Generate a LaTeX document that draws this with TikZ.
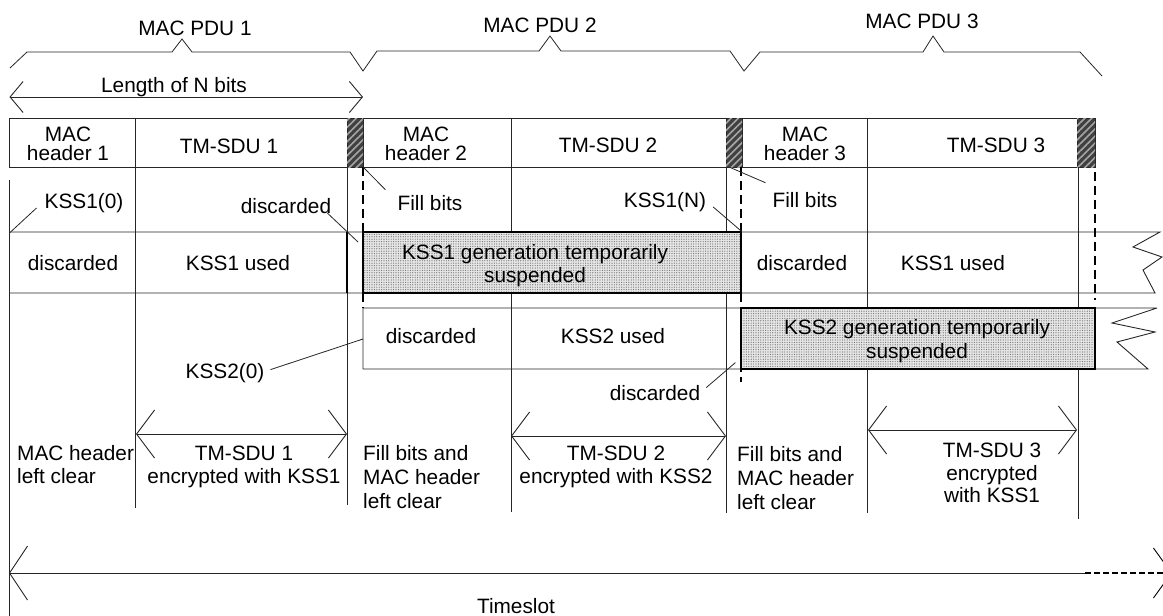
\documentclass[tikz,border=0pt]{standalone}
\usepackage{fontspec}
\setmainfont{Liberation Sans}
\usetikzlibrary{arrows.meta,patterns,patterns.meta,calc}
\begin{document}
\begin{tikzpicture}[x=1pt,y=-1pt,
  every node/.style={inner sep=0pt, font=\fontsize{20.8}{23}\selectfont, text=black},
  ln/.style={draw=black!85, line width=0.9pt},
  leader/.style={draw=black!85, line width=0.8pt},
  lbl/.style={anchor=base},
  hdrfont/.style={font=\fontsize{20.8}{19}\selectfont, align=center},
  widefont/.style={font=\fontsize{20.8}{24}\selectfont},
  hatchbox/.style={draw=black!85, line width=0.6pt, fill=black!75,
    postaction={pattern={Lines[angle=45,distance=5pt,line width=1.6pt]}, pattern color=black!35},
    minimum height=49pt},
  shadebox/.style={preaction={fill=black!10}, pattern={Dots[distance=2.4pt,radius=0.6pt]},
    pattern color=black!55, draw=black, line width=1.2pt, minimum height=61pt},
  dashv/.style={draw=black, line width=2pt, dash pattern=on 9pt off 5pt},
  barbs/.style={{Straight Barb[length=18pt,width=48pt,line width=0.9pt]}-{Straight Barb[length=18pt,width=48pt,line width=0.9pt]}}
]
\useasboundingbox (0,0) rectangle (1163,616);

% PDU braces
\draw[ln, line width=0.8pt] (10,68) -- (27,52) -- (172,52) -- (182,39) -- (192,52) -- (350,52) -- (363,71)
  -- (377,51) -- (539,51) -- (550,36) -- (561,51) -- (730,51) -- (744,71)
  -- (760,52) -- (923,52) -- (933,36) -- (944,52) -- (1080,52) -- (1102,76);
\node[lbl] (pdu1) at (195,35) {MAC PDU 1};
\node[lbl] (pdu2) at (540,32) {MAC PDU 2};
\node[lbl] (pdu3) at (922,28) {MAC PDU 3};

% Length of N bits
\coordinate (lenL) at (9.5,97);
\coordinate (lenR) at (363,97);
\draw[ln, {Straight Barb[length=13pt,width=31pt,line width=0.9pt]}-{Straight Barb[length=13pt,width=31pt,line width=0.9pt]}] (lenL) -- (lenR);
\node[lbl] (lenT) at (174,92) {Length of N bits};

% header row
\draw[ln] (9.5,118) rectangle (1095,167);
\draw[ln] (135,118) -- (135,167);
\draw[ln] (511,118) -- (511,167);
\draw[ln] (867,118) -- (867,167);
\node[hatchbox, minimum width=16pt] (h1) at (355,142.5) {};
\node[hatchbox, minimum width=16pt] (h2) at (734,142.5) {};
\node[hatchbox, minimum width=18pt] (h3) at (1086,142.5) {};
\node[hdrfont] (mh1) at (68,144) {MAC\\header 1};
\node[lbl] (sdu1) at (229,153) {TM-SDU 1};
\node[hdrfont] (mh2) at (426,144) {MAC\\header 2};
\node[lbl] (sdu2) at (608,152) {TM-SDU 2};
\node[hdrfont] (mh3) at (805,144) {MAC\\header 3};
\node[lbl] (sdu3) at (996,152) {TM-SDU 3};

% long vertical lines
\draw[ln] (9.5,180) -- (9.5,616);
\draw[ln] (135,167) -- (135,508);
\draw[ln] (347,167) -- (347,505);
\draw[ln] (511,167) -- (511,512);
\draw[ln] (726,167) -- (726,513);
\draw[ln] (867,167) -- (867,513);
\draw[ln] (1078,167) -- (1078,519);

% KSS1 row
\draw[ln] (9.5,232) -- (1160,232) -- (1133,247) -- (1162,257) -- (1143,270) -- (1155,293) -- (9.5,293);
\draw[line width=1.6pt] (347,232) -- (347,293);
% KSS2 row
\draw[ln] (1157,308) -- (363,308) -- (363,369) -- (1148,369) -- (1117,342) -- (1155,332) -- (1112,323) -- (1157,308);

% suspended boxes
\node[shadebox, minimum width=378pt] (sh1) at (552,262.5) {};
\node[shadebox, minimum width=354pt] (sh2) at (918,338.5) {};
\node[align=center] (sh1t) at (535,265.5) {KSS1 generation temporarily\\suspended};
\node[align=center, widefont] (sh2t) at (917,341) {KSS2 generation temporarily\\suspended};

% dashed markers
\draw[dashv] (363,167) -- (363,308);
\draw[dashv] (741,167) -- (741,382);
\draw[dashv] (1095,172) -- (1095,300);

% row 2 labels
\node[lbl] (kss10) at (84,208) {KSS1(0)};
\node[lbl] (disc1) at (286,213) {discarded};
\node[lbl] (fill2) at (430,210) {Fill bits};
\node[lbl] (kssN) at (665,207) {KSS1(N)};
\node[lbl] (fill3) at (805,207) {Fill bits};
% row 3 labels
\node[lbl] (r3a) at (73,270) {discarded};
\node[lbl] (r3b) at (238,270) {KSS1 used};
\node[lbl] (r3c) at (802,270) {discarded};
\node[lbl] (r3d) at (953,270) {KSS1 used};
% row 5 labels
\node[lbl] (r5a) at (431,343) {discarded};
\node[lbl] (r5b) at (613,343) {KSS2 used};
\node[lbl] (kss20) at (225,378) {KSS2(0)};
\node[lbl] (disc3) at (655,400) {discarded};

% leader lines
\coordinate (p1) at (9.5,233);
\coordinate (p2) at (358,242);
\coordinate (p6) at (363,339);
\draw[leader] ($(kss10.base west)+(-8,0)$) -- (p1);
\draw[leader] ($(disc1.base east)+(-4,0)$) -- (p2);
\draw[leader] (h1.south east) -- ($(fill2.north west)+(-12,-5)$);
\draw[leader] ($(kssN.base east)+(7,0)$) -- (sh1.north east);
\draw[leader] ($(h2.south west)+(4,0)$) -- ($(fill3.north west)+(-7,-9)$);
\draw[leader] ($(kss20.east)+(6,-3)$) -- (p6);
\draw[leader] ($(disc3.east)+(6,-5)$) -- ($(sh2.south west)+(-5,-7)$);

% encryption spans
\coordinate (a1l) at (136,434); \coordinate (a1r) at (347,434);
\coordinate (a2l) at (511,436); \coordinate (a2r) at (726,436);
\coordinate (a3l) at (868,430); \coordinate (a3r) at (1077,430);
\draw[ln, barbs] (a1l) -- (a1r);
\draw[ln, barbs] (a2l) -- (a2r);
\draw[ln, barbs] (a3l) -- (a3r);

% bottom texts
\node[align=left, anchor=west] (bl1) at (17,465) {MAC header\\left clear};
\node[align=center] (bc1) at (244,467) {TM-SDU 1\\encrypted with KSS1};
\node[align=left, anchor=west, widefont] (bl2) at (363,477.5) {Fill bits and\\MAC header\\left clear};
\node[align=center] (bc2) at (616,467) {TM-SDU 2\\encrypted with KSS2};
\node[align=left, anchor=west, widefont] (bl3) at (737,478) {Fill bits and\\MAC header\\left clear};
\node[align=center, font=\fontsize{20.8}{22.5}\selectfont] (bc3) at (992,473) {TM-SDU 3\\encrypted\\with KSS1};

% timeslot
\coordinate (tsL) at (9,573);
\coordinate (tsM) at (1085,573);
\coordinate (tsR) at (1172,573);
\draw[ln, {Straight Barb[length=18pt,width=54pt,line width=0.9pt]}-] (tsL) -- (tsM);
\draw[draw=black, line width=1.5pt, dash pattern=on 6pt off 3pt, -{Straight Barb[length=18pt,width=50pt,line width=0.9pt]}] (tsM) -- (tsR);
\node[lbl] (ts) at (516,613) {Timeslot};
\end{tikzpicture}
\end{document}
